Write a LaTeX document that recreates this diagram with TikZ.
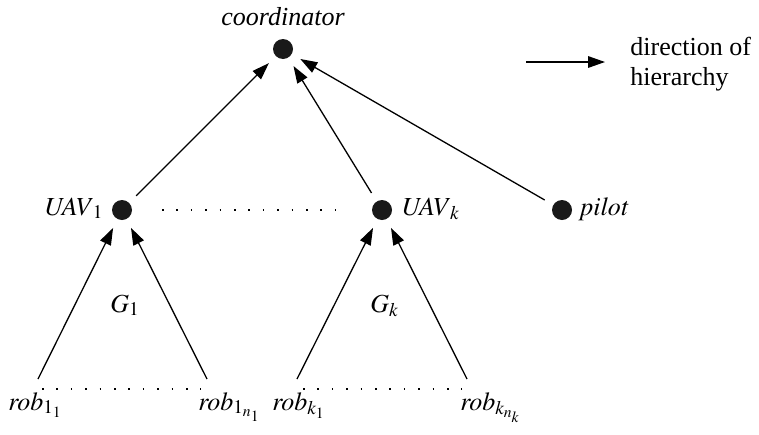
\documentclass[tikz,border=0pt]{standalone}
\usepackage{mathptmx}
\usepackage{fontspec}
\setmainfont{Liberation Serif}
\usetikzlibrary{arrows.meta}
\begin{document}
\begin{tikzpicture}[x=0.5pt,y=-0.5pt,
  font=\fontsize{13pt}{16pt}\selectfont,
  dot/.style={circle,fill=black!90,inner sep=0pt,minimum size=10pt,outer sep=5pt},
  link/.style={line width=0.65pt,-{Triangle[length=8.5pt,width=5.8pt]}},
  dots/.style={line width=0.8pt,dash pattern=on 0.8pt off 6.4pt},
  lbl/.style={inner sep=0pt,anchor=base west}]
\useasboundingbox (0,0) rectangle (759,434);

% hierarchy nodes
\node[dot] (coord) at (283,49) {};
\node[dot] (u1) at (122,210) {};
\node[dot] (uk) at (382,210) {};
\node[dot] (pilot) at (562,210) {};

\node[inner sep=0pt,anchor=base] (tcoord) at (283,25) {\itshape coordinator};
\node[lbl,anchor=base east] (tu1) at (104,215) {$\mathit{UAV}_1$};
\node[lbl] (tuk) at (401,215) {$\mathit{UAV}_k$};
\node[lbl] (tpilot) at (580,215) {$\mathit{pilot}$};

% robot ends
\coordinate (r11) at (38,379);
\coordinate (r1n) at (207,379);
\coordinate (rk1) at (297,379);
\coordinate (rkn) at (467,379);

\node[lbl] (l11) at (8,410) {$\mathit{rob}_{1_1}$};
\node[lbl] (l1n) at (198,410) {$\mathit{rob}_{1_{n_1}}$};
\node[lbl] (lk1) at (272,410) {$\mathit{rob}_{k_1}$};
\node[lbl] (lkn) at (460,410) {$\mathit{rob}_{k_{n_k}}$};

% group labels
\node[lbl] (g1) at (110,312) {$G_1$};
\node[lbl] (gk) at (370,312) {$G_k$};

% arrows
\draw[link] (u1) -- (coord);
\draw[link] (uk) -- (coord);
\draw[link] (pilot) -- (coord);
\draw[link] (r11) -- (u1);
\draw[link] (r1n) -- (u1);
\draw[link] (rk1) -- (uk);
\draw[link] (rkn) -- (uk);

% dotted rows
\coordinate (d1a) at (162,210);
\coordinate (d1b) at (338,210);
\draw[dots] (d1a) -- (d1b);
\coordinate (d2a) at (42,389);
\coordinate (d2b) at (201,389);
\draw[dots] (d2a) -- (d2b);
\coordinate (d3a) at (303,389);
\coordinate (d3b) at (462,389);
\draw[dots] (d3a) -- (d3b);

% legend
\coordinate (la) at (526,62);
\coordinate (lb) at (605,62);
\draw[link] (la) -- (lb);
\node[lbl] (ltxt1) at (630,55) {direction of};
\node[lbl] (ltxt2) at (630,85) {hierarchy};
\end{tikzpicture}
\end{document}
